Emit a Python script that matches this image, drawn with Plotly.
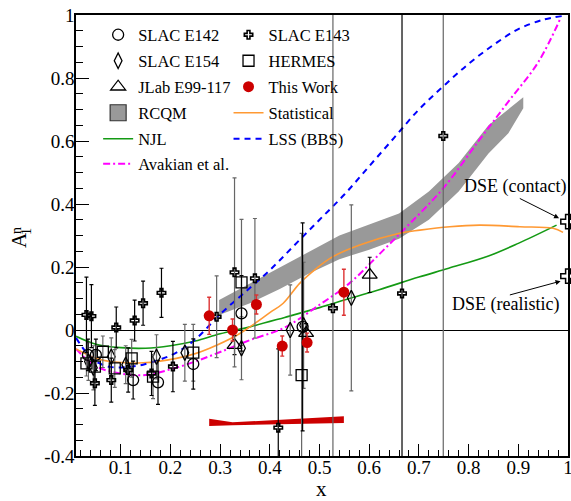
import plotly.graph_objects as go

# ---- data ----
# SLAC E142 (open circles)
e142_x = [0.034, 0.05, 0.125, 0.175, 0.246, 0.343, 0.466]
e142_y = [-0.079, -0.079, -0.159, -0.166, -0.108, 0.053, 0.01]
e142_err = [0.05, 0.05, 0.06, 0.07, 0.08, 0.12, 0.33]

# SLAC E143 (small crosses), two sets with black / grey bars
e143a_x = [0.031, 0.041, 0.048, 0.081, 0.091, 0.115, 0.128, 0.145, 0.162, 0.182, 0.205, 0.417, 0.666]
e143a_y = [0.048, 0.044, -0.169, -0.159, 0.008, -0.127, 0.03, 0.085, -0.138, 0.118, -0.116, -0.31, 0.116]
e143a_err = [0.12, 0.1, 0.07, 0.07, 0.065, 0.07, 0.065, 0.07, 0.07, 0.078, 0.08, 0.25, 1.0]
e143b_x = [0.293, 0.329, 0.37, 0.527, 0.749]
e143b_y = [0.042, 0.183, 0.164, 0.069, 0.616]
e143b_err = [0.13, 0.3, 0.19, 1.0, 1.2]

# SLAC E154 (open diamonds)
e154_x = [0.035, 0.045, 0.081, 0.11, 0.172, 0.229, 0.343, 0.441, 0.468, 0.564]
e154_y = [-0.1, -0.12, -0.085, -0.11, -0.085, -0.072, -0.058, 0.0, 0.015, 0.102]
e154_err = [0.06, 0.07, 0.06, 0.06, 0.07, 0.09, 0.1, 0.143, 0.2, 0.295]

# HERMES (open squares)
hermes_x = [0.031, 0.048, 0.064, 0.088, 0.122, 0.165, 0.246, 0.343, 0.464]
hermes_y = [-0.106, -0.116, -0.069, -0.122, -0.09, -0.148, -0.072, 0.151, -0.143]
hermes_err = [0.04, 0.05, 0.05, 0.06, 0.06, 0.07, 0.09, 0.2, 0.45]

# JLab E99-117 (open triangles)
jlab_x = [0.329, 0.473, 0.601]
jlab_y = [-0.048, -0.01, 0.175]
jlab_err = [0.03, 0.03, 0.056]

# This Work (red dots)
work_x = [0.278, 0.325, 0.373, 0.425, 0.475, 0.549]
work_y = [0.045, 0.0, 0.081, -0.051, -0.04, 0.12]
work_err = [0.059, 0.035, 0.03, 0.032, 0.03, 0.073]

# systematic band (red)
sys_x = [0.278, 0.325, 0.549]
sys_hi = [-0.282, -0.293, -0.274]
sys_lo = [-0.305, -0.302, -0.295]

# RCQM band
rcqm_x = [0.298, 0.36, 0.42, 0.48, 0.54, 0.6, 0.66, 0.72, 0.78, 0.84, 0.88, 0.91]
rcqm_lo = [0.048, 0.085, 0.13, 0.18, 0.225, 0.255, 0.29, 0.35, 0.44, 0.56, 0.625, 0.704]
rcqm_hi = [0.095, 0.148, 0.2, 0.25, 0.3, 0.335, 0.37, 0.44, 0.53, 0.65, 0.70, 0.739]

# model curves
njl_x = [0.01, 0.05, 0.1, 0.15, 0.2, 0.25, 0.3, 0.36, 0.43, 0.5, 0.56, 0.62, 0.7, 0.76, 0.84, 0.9, 0.977]
njl_y = [-0.02, -0.045, -0.056, -0.058, -0.05, -0.035, -0.012, 0.01, 0.04, 0.071, 0.1, 0.128, 0.168, 0.196, 0.235, 0.275, 0.333]

stat_x = [0.01, 0.05, 0.078, 0.145, 0.212, 0.25, 0.279, 0.33, 0.36, 0.4, 0.427, 0.46, 0.494, 0.527,
          0.581, 0.661, 0.702, 0.762, 0.822, 0.903, 0.97, 0.99]
stat_y = [-0.06, -0.09, -0.1, -0.104, -0.09, -0.075, -0.058, -0.02, 0.01, 0.055, 0.085, 0.148, 0.196, 0.233,
          0.27, 0.307, 0.317, 0.328, 0.333, 0.328, 0.323, 0.31]

lss_x = [0.01, 0.03, 0.05, 0.078, 0.11, 0.145, 0.18, 0.212, 0.25, 0.3, 0.35, 0.4, 0.45, 0.5, 0.55,
         0.6, 0.65, 0.7, 0.75, 0.8, 0.85, 0.9, 0.95, 0.99]
lss_y = [-0.025, -0.07, -0.1, -0.117, -0.118, -0.11, -0.093, -0.072, -0.03, 0.05, 0.12, 0.19, 0.27, 0.35, 0.43,
         0.52, 0.61, 0.7, 0.775, 0.845, 0.905, 0.955, 0.985, 0.997]

avak_x = [0.01, 0.05, 0.1, 0.15, 0.2, 0.25, 0.3, 0.36, 0.43, 0.5, 0.56, 0.62, 0.68, 0.75, 0.82, 0.88, 0.94, 0.985]
avak_y = [-0.06, -0.115, -0.138, -0.143, -0.125, -0.1, -0.07, -0.032, 0.008, 0.08, 0.148, 0.24, 0.335, 0.452,
          0.6, 0.725, 0.85, 0.99]

# DSE points at x = 1
dse_x = [1.0, 1.0]
dse_y = [0.344, 0.171]

FONT = "Liberation Serif"
GREY = "#666666"
L, T, W, H = 76, 15, 492, 441
FIG_W, FIG_H = 571, 501

# legend grid: one single-item legend per cell (column x, row centre in px)
LEGEND_COLS = [0.045, 0.31]
LEGEND_ROWS = [35, 61, 87, 113, 139, 164]
legend_cells = {}


def legend_slot(col, row):
    name = "legend" if not legend_cells else "legend%d" % (len(legend_cells) + 1)
    legend_cells[name] = (LEGEND_COLS[col], 1 - (LEGEND_ROWS[row] - T) / H)
    return name


fig = go.Figure()

# bands
fig.add_trace(go.Scatter(
    x=rcqm_x + rcqm_x[::-1], y=rcqm_hi + rcqm_lo[::-1], fill="toself",
    fillcolor="#999999", line=dict(width=0), mode="lines",
    showlegend=False, hoverinfo="skip"))
fig.add_trace(go.Scatter(
    x=sys_x + sys_x[::-1], y=sys_hi + sys_lo[::-1], fill="toself",
    fillcolor="#cc0000", line=dict(width=0), mode="lines",
    showlegend=False, hoverinfo="skip"))
# legend swatch for RCQM
fig.add_trace(go.Scatter(
    x=[None], y=[None], mode="markers", name="RCQM", legend=legend_slot(0, 3),
    marker=dict(symbol="square", size=19, color="#999999", line=dict(color="#333333", width=1.2))))

# curves
fig.add_trace(go.Scatter(x=njl_x, y=njl_y, mode="lines", name="NJL", line_shape="spline",
                         line=dict(color="#149a14", width=1.6), legend=legend_slot(0, 4)))
fig.add_trace(go.Scatter(x=avak_x, y=avak_y, mode="lines", name="Avakian et al.", line_shape="spline",
                         line=dict(color="#ff00ff", width=2, dash="7px,3px,2px,3px"),
                         legend=legend_slot(0, 5)))
fig.add_trace(go.Scatter(x=stat_x, y=stat_y, mode="lines", name="Statistical", line_shape="spline",
                         line=dict(color="#ff9933", width=1.6), legend=legend_slot(1, 3)))
fig.add_trace(go.Scatter(x=lss_x, y=lss_y, mode="lines", name="LSS (BBS)", line_shape="spline",
                         line=dict(color="#0000ff", width=2, dash="6px,5px"),
                         legend=legend_slot(1, 4)))


def points(x, y, err, name, symbol, size, barcolor, legend, show=True, lw=1.3):
    return go.Scatter(
        x=x, y=y, mode="markers", name=name, legend=legend, showlegend=show,
        marker=dict(symbol=symbol, size=size, color="black", line=dict(color="black", width=lw)),
        error_y=dict(type="data", array=err, color=barcolor, thickness=1.2, width=2))


fig.add_trace(points(e154_x, e154_y, e154_err, "SLAC E154", "diamond-tall-open", 11, GREY, legend_slot(0, 1)))
fig.add_trace(points(hermes_x, hermes_y, hermes_err, "HERMES", "square-open", 11, GREY, legend_slot(1, 1)))
fig.add_trace(points(e142_x, e142_y, e142_err, "SLAC E142", "circle-open", 11, "black", legend_slot(0, 0)))
fig.add_trace(points(jlab_x, jlab_y, jlab_err, "JLab E99-117", "triangle-up-open", 13, "black",
                     legend_slot(0, 2)))
e143_leg = legend_slot(1, 0)
fig.add_trace(points(e143b_x, e143b_y, e143b_err, "SLAC E143", "cross-open", 7, GREY, e143_leg,
                     show=False, lw=1.6))
fig.add_trace(points(e143a_x, e143a_y, e143a_err, "SLAC E143", "cross-open", 7, "black", e143_leg, lw=1.6))
fig.add_trace(go.Scatter(
    x=work_x, y=work_y, mode="markers", name="This Work", legend=legend_slot(1, 2),
    marker=dict(symbol="circle", size=11, color="#cc0000"),
    error_y=dict(type="data", array=work_err, color="#dd3333", thickness=1.4, width=2)))
fig.add_trace(go.Scatter(
    x=dse_x, y=dse_y, mode="markers", showlegend=False, cliponaxis=False,
    marker=dict(symbol="cross-open", size=12, color="black", line=dict(color="black", width=1.5))))

ann_font = dict(family=FONT, size=18, color="black")
fig.add_annotation(x=0.893, y=0.455, text="DSE (contact)", showarrow=False,
                   xanchor="center", yanchor="middle", font=ann_font)
fig.add_annotation(x=0.875, y=0.08, text="DSE (realistic)", showarrow=False,
                   xanchor="center", yanchor="middle", font=ann_font)
fig.add_annotation(x=0.982, y=0.355, ax=0.9, ay=0.42, axref="x", ayref="y", text="",
                   showarrow=True, arrowhead=2, arrowsize=1, arrowwidth=1, arrowcolor="black")
fig.add_annotation(x=0.985, y=0.155, ax=0.88, ay=0.11, axref="x", ayref="y", text="",
                   showarrow=True, arrowhead=2, arrowsize=1, arrowwidth=1, arrowcolor="black")

# axis titles: x, and A_1^n with stacked sub/superscript (rotated)
fig.add_annotation(x=(321 - L) / W, y=1 - (489 - T) / H, xref="paper", yref="paper", text="x",
                   xanchor="center", yanchor="middle",
                   showarrow=False, font=dict(family=FONT, size=21, color="black"))
for txt, px, py, sz in [("A", 19, 240, 21), ("n", 16, 231, 14), ("1", 26, 232, 14)]:
    fig.add_annotation(x=(px - L) / W, y=1 - (py - T) / H, xref="paper", yref="paper",
                       text=txt, showarrow=False, textangle=-90, xanchor="center", yanchor="middle",
                       font=dict(family=FONT, size=sz, color="black"))

legend_font = dict(family=FONT, size=16.5, color="black")
legend_layout = {
    name: dict(x=lx, y=ly, xanchor="left", yanchor="middle", font=legend_font,
               bgcolor="rgba(0,0,0,0)", borderwidth=0, itemwidth=30)
    for name, (lx, ly) in legend_cells.items()
}

fig.update_layout(
    width=FIG_W, height=FIG_H,
    margin=dict(l=L, r=FIG_W - L - W, t=T, b=FIG_H - T - H),
    paper_bgcolor="white", plot_bgcolor="white",
    font=dict(family=FONT, size=19, color="black"),
    xaxis=dict(range=[0.01, 1.0], dtick=0.1, tick0=0, ticks="inside", ticklen=12, tickwidth=1,
               tickcolor="black", showline=True, linecolor="black", linewidth=1.5, mirror=True,
               showgrid=False, zeroline=False, automargin=False, ticklabelstandoff=-7,
               ticklabeloverflow="allow",
               minor=dict(dtick=0.02, tick0=0, ticks="inside", ticklen=6, tickcolor="black")),
    yaxis=dict(range=[-0.4, 1.0], tickmode="array",
               tickvals=[-0.4, -0.2, 0, 0.2, 0.4, 0.6, 0.8, 1.0],
               ticktext=["-0.4", "-0.2", "0", "0.2", "0.4", "0.6", "0.8", "1"],
               ticks="inside", ticklen=13, tickwidth=1, tickcolor="black", automargin=False,
               ticklabelstandoff=-4, ticklabeloverflow="allow",
               showline=True, linecolor="black", linewidth=1.5, mirror=True,
               showgrid=False, zeroline=True, zerolinecolor="black", zerolinewidth=1,
               minor=dict(dtick=0.05, tick0=0, ticks="inside", ticklen=7, tickcolor="black")),
    **legend_layout,
)

# drop the default 8px page margin so the figure fills the window exactly
fig.write_html("out.html", config={"displayModeBar": False},
               post_script="document.body.style.margin='0';"
                           "document.body.style.overflow='hidden';")
